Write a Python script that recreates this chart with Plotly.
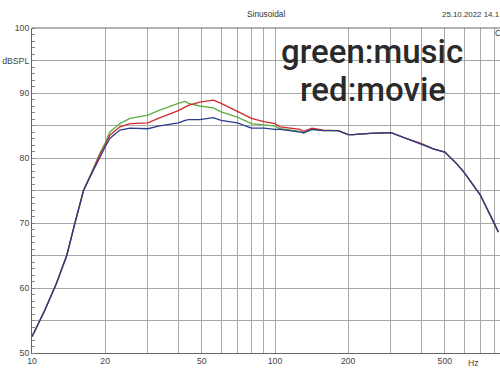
import numpy as np
import plotly.graph_objects as go

# ---- data ----
freq = [10, 11.3, 12.6, 13.9, 15, 16.3, 17.6, 19, 20, 20.9, 23, 25.3, 30, 33.1,
        40, 42.7, 44, 49, 55.7, 60, 70, 80, 90, 100, 105, 115, 127, 131, 142,
        158, 182, 200, 210, 246, 300, 348, 400, 448, 500, 560, 600, 700, 800, 830]

blue_db = [52.5, 56.6, 60.7, 65.0, 69.9, 75.0, 77.6, 80.2, 81.7, 83.0, 84.3, 84.6,
           84.5, 84.9, 85.4, 85.8, 85.9, 85.9, 86.2, 85.8, 85.4, 84.6, 84.6, 84.4,
           84.4, 84.2, 84.0, 83.9, 84.4, 84.2, 84.2, 83.6, 83.6, 83.8, 83.9, 83.0,
           82.2, 81.4, 80.9, 79.1, 77.8, 74.3, 69.9, 68.6]

red_db = [52.5, 56.6, 60.7, 65.0, 69.9, 75.0, 77.7, 80.5, 82.0, 83.5, 84.8, 85.3,
          85.4, 86.1, 87.3, 87.8, 88.1, 88.6, 88.9, 88.4, 87.2, 86.1, 85.6, 85.3,
          84.8, 84.6, 84.4, 84.1, 84.6, 84.3, 84.2, 83.6, 83.6, 83.8, 83.9, 83.0,
          82.2, 81.4, 80.9, 79.1, 77.8, 74.3, 69.9, 68.6]

green_db = [52.5, 56.6, 60.7, 65.0, 69.9, 75.1, 77.8, 80.7, 82.3, 84.0, 85.3, 86.1,
            86.6, 87.3, 88.4, 88.7, 88.4, 88.0, 87.7, 87.1, 86.3, 85.3, 85.1, 84.9,
            84.5, 84.3, 84.1, 83.8, 84.4, 84.2, 84.2, 83.6, 83.6, 83.8, 83.9, 83.0,
            82.2, 81.4, 80.9, 79.1, 77.8, 74.3, 69.9, 68.6]

x_grid = [10, 20, 30, 40, 50, 60, 70, 80, 90, 100, 200, 300, 400, 500, 600, 700, 800]
x_labels = ["10", "20", "", "", "50", "", "", "", "", "100", "200", "", "", "500", "", "", ""]
y_vals = [50, 55, 60, 65, 70, 75, 80, 85, 90, 95, 100]
y_labels = ["50", "", "60", "", "70", "", "80", "", "90", "dBSPL", "100"]

L, T, PW, PH = 32, 28, 468, 325   # plot area in window pixels

fig = go.Figure()
for ys, col in [(green_db, "#5cb040"), (red_db, "#d02a2a"), (blue_db, "#2a3c8e")]:
    fig.add_trace(go.Scatter(x=freq, y=ys, mode="lines",
                             line=dict(color=col, width=1.3), showlegend=False,
                             hoverinfo="skip"))

axfont = dict(family="Liberation Sans, Arial, sans-serif", size=8.7, color="#444")
fig.update_layout(
    width=500, height=375,
    margin=dict(l=L, r=0, t=T, b=375 - T - PH, pad=0),
    paper_bgcolor="white", plot_bgcolor="white",
    xaxis=dict(type="log", range=[1, 1 + PW / 243], tickvals=x_grid, ticktext=x_labels,
               showgrid=True, gridcolor="#a8a8a8", gridwidth=1, ticks="",
               showline=True, linecolor="#666", linewidth=1, mirror=False,
               tickfont=axfont, zeroline=False, automargin=False),
    yaxis=dict(range=[50, 100], tickvals=y_vals, ticktext=y_labels,
               showgrid=True, gridcolor="#a8a8a8", gridwidth=1, ticks="",
               showline=True, linecolor="#666", linewidth=1, zeroline=False,
               tickfont=axfont, automargin=False,
               minor=dict(dtick=1, ticks="inside", ticklen=3, tickcolor="#888",
                          showgrid=False)),
    shapes=[dict(type="line", xref="paper", yref="paper", x0=0, x1=1, y0=1, y1=1,
                 line=dict(color="#666", width=1))],
)


def px(xp):
    return (xp - L) / PW


def py(yp):
    return (T + PH - yp) / PH


small = dict(family="Liberation Sans, Arial, sans-serif", size=8.3, color="#333")
date_font = dict(family="Liberation Sans, Arial, sans-serif", size=7.9, color="#333")
big = dict(family="Roboto, sans-serif", size=33, color="#2a2a2a", weight=500)
fig.add_annotation(text="Sinusoidal", xref="paper", yref="paper",
                   x=px(266), y=py(14), showarrow=False,
                   xanchor="center", yanchor="middle", font=small)
fig.add_annotation(text="25.10.2022 14.1", xref="paper", yref="paper",
                   x=px(440), y=py(14), showarrow=False,
                   xanchor="left", yanchor="middle", font=date_font)
fig.add_annotation(text="C", xref="paper", yref="paper",
                   x=px(493), y=py(33), showarrow=False,
                   xanchor="left", yanchor="middle", font=small)
fig.add_annotation(text="Hz", xref="paper", yref="paper",
                   x=px(473), y=py(363), showarrow=False,
                   xanchor="center", yanchor="middle", font=axfont)
fig.add_annotation(text="green:music", xref="paper", yref="paper",
                   x=px(372), y=py(51.9), showarrow=False,
                   xanchor="center", yanchor="middle", font=big)
fig.add_annotation(text="red:movie", xref="paper", yref="paper",
                   x=px(373.4), y=py(89.3), showarrow=False,
                   xanchor="center", yanchor="middle", font=big)

fig.write_html("out.html", config={"displayModeBar": False},
               post_script="document.body.style.margin='0px';")
